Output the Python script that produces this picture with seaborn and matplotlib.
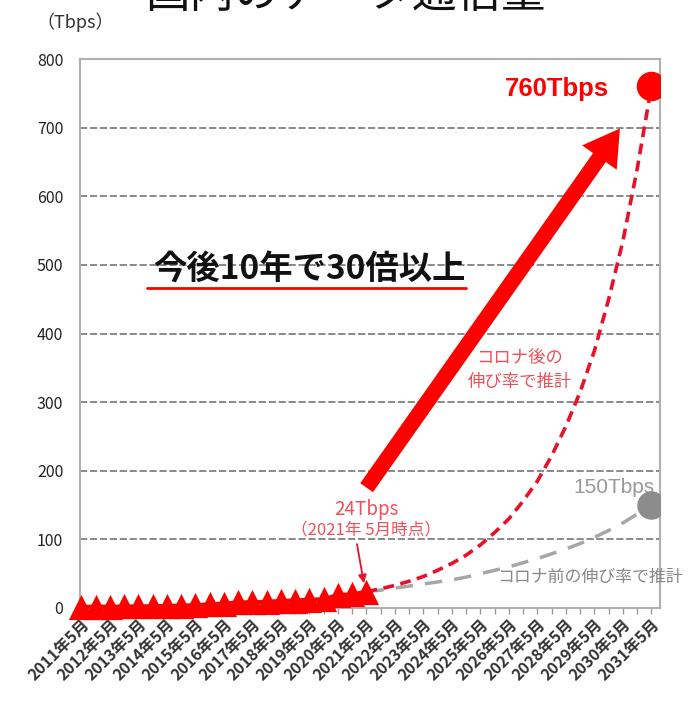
import numpy as np
import pandas as pd
import matplotlib
matplotlib.use("Agg")
import matplotlib.pyplot as plt
import seaborn as sns

# ---- data ----
years = list(range(2011, 2032))
tick_labels = [f"{y}年5月" for y in years]

# actual traffic (half-year steps, 2011/5 .. 2021/5)
actual_t = [2011 + 0.5 * i for i in range(21)]
actual_v = [1.7, 1.9, 2.0, 2.2, 2.3, 2.6, 2.9, 3.5, 4.0, 5.4, 6.3, 8.2, 8.3,
            9.1, 10.3, 10.9, 12.1, 12.7, 19.0, 19.8, 23.7]

# post-corona projection (half-year steps, 2021/5 .. 2031/5)
proj_t = [2021 + 0.5 * i for i in range(21)]
post_v = [24, 28, 33, 39, 46, 55, 65, 77, 92, 110, 130, 156, 185, 222, 265,
          315, 375, 450, 535, 640, 760]
# pre-corona projection
pre_v = [24, 26, 29, 32, 35, 38, 41, 45, 50, 55, 60, 66, 72, 79, 86, 94,
         103, 113, 124, 137, 150]

sns.set_theme(style="white")
plt.rcParams['font.family'] = ['Noto Sans CJK JP', 'DejaVu Sans']

fig = plt.figure(figsize=(6.9, 7.03), dpi=100)
ax = fig.add_axes([80 / 690, 1 - 608 / 703, 580 / 690, 549 / 703])

RED = "#ff0000"
GRAY = "#a6a6a6"
PINK = "#f0505a"

df_a = pd.DataFrame({"t": actual_t, "v": actual_v})
df_post = pd.DataFrame({"t": proj_t, "v": post_v})
df_pre = pd.DataFrame({"t": proj_t, "v": pre_v})

# grid lines
for g in range(100, 800, 100):
    ax.axhline(g, color="#808080", lw=1.3, ls=(0, (4, 1.5)), zorder=0)

sns.lineplot(data=df_pre, x="t", y="v", ax=ax, color=GRAY, lw=2.5,
             ls=(0, (5, 3.5)), zorder=2)
sns.lineplot(data=df_post, x="t", y="v", ax=ax, color="#e8102a", lw=2.6,
             ls=(0, (3, 1.8)), zorder=3)
sns.lineplot(data=df_a, x="t", y="v", ax=ax, color=RED, lw=3, zorder=4,
              clip_on=False)
sns.scatterplot(data=df_a, x="t", y="v", ax=ax, color=RED, marker="^",
                s=330, edgecolor=RED, linewidth=0, zorder=5, clip_on=False)
ax.scatter([proj_t[-1]], [post_v[-1]], s=450, color=RED, zorder=6, lw=0)
ax.scatter([proj_t[-1]], [pre_v[-1]], s=420, color="#8c8c8c", zorder=6, lw=0)

# big arrow
ax.annotate("", xy=(2029.95, 702), xytext=(2020.95, 172),
            arrowprops=dict(arrowstyle="simple,head_length=1.6,head_width=1.9,tail_width=0.7",
                            color=RED, lw=0, mutation_scale=16), zorder=7)
# small arrow
ax.annotate("", xy=(2020.93, 32), xytext=(2020.65, 97),
            arrowprops=dict(arrowstyle="-|>", color="#e8102a", lw=1.3,
                            mutation_scale=12), zorder=7)

# texts
ax.text(2027.7, 756, "760Tbps", color=RED, fontsize=18.5, fontweight="bold",
        ha="center", va="center", family=['Liberation Sans', 'DejaVu Sans'])
ax.text(2019.0, 492, "今後10年で30倍以上", color="#111111", fontsize=24,
        fontweight="bold", ha="center", va="center")
ax.plot([2013.3, 2024.5], [466, 466], color=RED, lw=2, zorder=6)
ax.text(2021.0, 143, "24Tbps", color=PINK, fontsize=13.5, ha="center",
        va="center")
ax.text(2021.0, 114, "（2021年 5月時点）", color=PINK, fontsize=12,
        ha="center", va="center")
ax.text(2026.37, 364, "コロナ後の", color=PINK, fontsize=12.5,
        ha="center", va="center")
ax.text(2026.37, 329, "伸び率で推計", color=PINK, fontsize=12.5,
        ha="center", va="center")
ax.text(2029.67, 175, "150Tbps", color="#999999", fontsize=15,
        ha="center", va="center", family=['Liberation Sans', 'DejaVu Sans'])
ax.text(2025.6, 45, "コロナ前の伸び率で推計", color="#888888", fontsize=12.2,
        ha="left", va="center", clip_on=False)

# axes styling
ax.set_xlim(2010.95, 2031.3)
ax.set_ylim(0, 800)
ax.set_xticks(years)
ax.set_xticklabels(tick_labels, rotation=45, ha="right", rotation_mode="anchor",
                   fontsize=11.5, fontweight="bold", color="#333333")
ax.set_xticks([y + 0.5 for y in years[:-1]], minor=True)
ax.set_yticks(range(0, 801, 100))
ax.set_yticklabels([str(v) for v in range(0, 801, 100)], fontsize=11.5,
                   color="#222222")
ax.tick_params(axis="x", which="both", direction="out", length=4, width=1,
               color="#999999", bottom=True, pad=2)
ax.tick_params(axis="y", length=0, pad=12)
ax.set_xlabel("")
ax.set_ylabel("")
for s in ax.spines.values():
    s.set_color("#b0b0b0")
    s.set_linewidth(1.5)

fig.text(36 / 690, 1 - 22 / 703, "（Tbps）", fontsize=13, color="#333333",
         ha="left", va="center")
fig.text(0.5, 1 + 6 / 703, "国内のデータ通信量", fontsize=32, color="#111111",
         ha="center", va="center")

fig.savefig("out.png", dpi=100)
